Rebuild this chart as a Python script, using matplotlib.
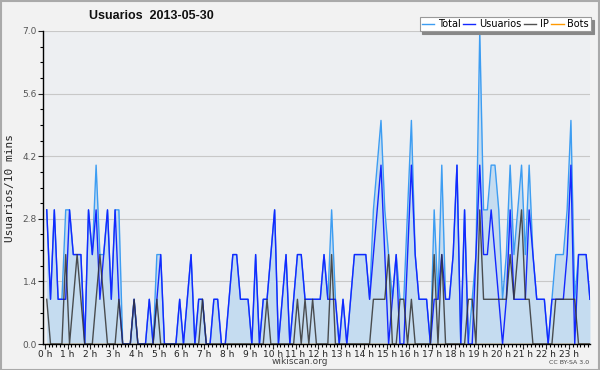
import numpy as np
import matplotlib
matplotlib.use("Agg")
import matplotlib.pyplot as plt
from matplotlib.patches import Rectangle
from matplotlib.ticker import MultipleLocator

# values per 10 minutes, one row per hour
total = [
    3, 1, 3, 1, 1, 3,
    3, 2, 2, 2, 0, 3,
    2, 4, 2, 2, 3, 1,
    3, 3, 0, 0, 0, 1,
    0, 0, 0, 1, 0, 2,
    2, 0, 0, 0, 0, 1,
    0, 1, 2, 0, 1, 1,
    0, 0, 1, 1, 0, 0,
    1, 2, 2, 1, 1, 1,
    0, 2, 0, 1, 1, 2,
    3, 0, 1, 2, 0, 1,
    2, 2, 1, 1, 1, 1,
    1, 2, 1, 3, 1, 0,
    1, 0, 1, 2, 2, 2,
    2, 1, 3, 4, 5, 3,
    2, 1, 2, 1, 1, 3,
    5, 2, 1, 1, 1, 0,
    3, 1, 4, 1, 1, 2,
    4, 0, 3, 0, 1, 2,
    7, 3, 3, 4, 4, 3,
    1, 2, 4, 2, 3, 4,
    2, 4, 2, 1, 1, 1,
    0, 1, 2, 2, 2, 3,
    5, 1, 2, 2, 2, 1,
]
usuarios = [
    3, 1, 3, 1, 1, 1,
    3, 2, 2, 2, 0, 3,
    2, 3, 1, 2, 3, 1,
    3, 1, 0, 0, 0, 1,
    0, 0, 0, 1, 0, 1,
    2, 0, 0, 0, 0, 1,
    0, 1, 2, 0, 1, 1,
    0, 0, 1, 1, 0, 0,
    1, 2, 2, 1, 1, 1,
    0, 2, 0, 1, 1, 2,
    3, 0, 1, 2, 0, 1,
    2, 2, 1, 1, 1, 1,
    1, 2, 1, 1, 1, 0,
    1, 0, 1, 2, 2, 2,
    2, 1, 2, 3, 4, 2,
    0, 1, 2, 0, 0, 2,
    4, 2, 1, 1, 1, 0,
    1, 1, 2, 1, 1, 2,
    4, 0, 3, 0, 0, 2,
    4, 2, 2, 3, 2, 1,
    0, 1, 3, 1, 1, 1,
    1, 3, 2, 1, 1, 1,
    0, 1, 1, 1, 1, 2,
    4, 0, 2, 2, 2, 1,
]
ip = [
    1, 0, 0, 0, 0, 2,
    0, 1, 2, 1, 0, 0,
    0, 1, 2, 1, 0, 0,
    0, 1, 0, 0, 0, 1,
    0, 0, 0, 0, 0, 1,
    0, 0, 0, 0, 0, 0,
    0, 0, 0, 0, 0, 1,
    0, 0, 0, 0, 0, 0,
    0, 0, 0, 0, 0, 0,
    0, 0, 0, 0, 1, 0,
    0, 0, 0, 0, 0, 0,
    1, 0, 1, 0, 1, 0,
    0, 0, 0, 2, 0, 0,
    0, 0, 0, 0, 0, 0,
    0, 0, 1, 1, 1, 1,
    2, 0, 0, 1, 1, 0,
    1, 0, 0, 0, 0, 0,
    2, 0, 2, 0, 0, 0,
    0, 0, 0, 1, 1, 0,
    3, 1, 1, 1, 1, 1,
    1, 1, 2, 1, 2, 3,
    1, 1, 0, 0, 0, 0,
    0, 0, 1, 1, 1, 1,
    1, 1, 0, 0, 0, 0,
]
bots = [0] * 144
hour_labels = [f"{h} h" for h in range(24)]
y_ticks = [0.0, 1.4, 2.8, 4.2, 5.6, 7.0]

x = (np.arange(144) + 0.5) / 6.0

fig = plt.figure(figsize=(6, 3.7), dpi=100, facecolor="#f2f2f2")
ax = fig.add_axes([43 / 600, 1 - 344 / 370, 547 / 600, 313 / 370])
ax.set_facecolor("#edeff2")

ax.fill_between(x, total, 0, color="#c5dcf0", lw=0, zorder=1)
ax.plot(x, total, color="#3d9df2", lw=1, label="Total", zorder=3)
ax.plot(x, usuarios, color="#1428ff", lw=1, label="Usuarios", zorder=4)
ax.plot(x, ip, color="#333333", lw=1, alpha=0.85, label="IP", zorder=5)
ax.plot(x, bots, color="#ff9900", lw=1, label="Bots", zorder=2)

ax.set_xlim(-0.08, 23.92)
ax.set_ylim(0, 7)
ax.set_yticks(y_ticks)
ax.set_yticklabels([f"{v:.1f}" for v in y_ticks])
ax.yaxis.set_minor_locator(MultipleLocator(0.35))
ax.set_xticks(range(24))
ax.set_xticklabels(hour_labels)
ax.xaxis.set_minor_locator(MultipleLocator(1 / 6))
ax.tick_params(axis="both", which="major", labelsize=6.5, length=3.5, width=0.8,
               colors="#222222", pad=0.5)
ax.tick_params(axis="both", which="minor", length=2.5, width=0.8)
ax.tick_params(axis="y", labelcolor="#555555", pad=1)
ax.grid(True, axis="y", color="#c8c8c8", lw=0.8, zorder=0)
ax.set_axisbelow(True)
for s in ["top", "right"]:
    ax.spines[s].set_visible(False)
for s in ["left", "bottom"]:
    ax.spines[s].set_linewidth(1)
    ax.spines[s].set_zorder(6)

ax.set_ylabel("Usuarios/10 mins", family="DejaVu Sans Mono", fontsize=8,
              color="#222222", labelpad=5)

leg = ax.legend(ncol=4, loc="upper right", bbox_to_anchor=(591 / 600, 1 - 17 / 370),
                bbox_transform=fig.transFigure, fontsize=7, frameon=True,
                fancybox=False, shadow={"color": "#888888", "alpha": 1, "ox": 2, "oy": -2},
                edgecolor="#999999", framealpha=1, handlelength=1.3,
                handletextpad=0.4, columnspacing=0.2, borderpad=0.2,
                borderaxespad=0)
leg.get_frame().set_linewidth(0.8)

fig.text(151 / 600, 1 - 16 / 370, "Usuarios  2013-05-30", ha="center",
         va="center", fontsize=9, weight="bold", family="Liberation Sans",
         color="#111111")
fig.text(300 / 600, 1 - 362 / 370, "wikiscan.org", ha="center", va="center",
         fontsize=6.5, color="#444444")
fig.text(589 / 600, 1 - 362 / 370, "CC BY-SA 3.0", ha="right", va="center",
         fontsize=4.5, color="#444444")

fig.patches.append(Rectangle((0.001, 0.001), 0.997, 0.996, transform=fig.transFigure,
                             fill=False, edgecolor="#aaaaaa", lw=1.5))

fig.savefig("out.png", dpi=100, facecolor=fig.get_facecolor())
